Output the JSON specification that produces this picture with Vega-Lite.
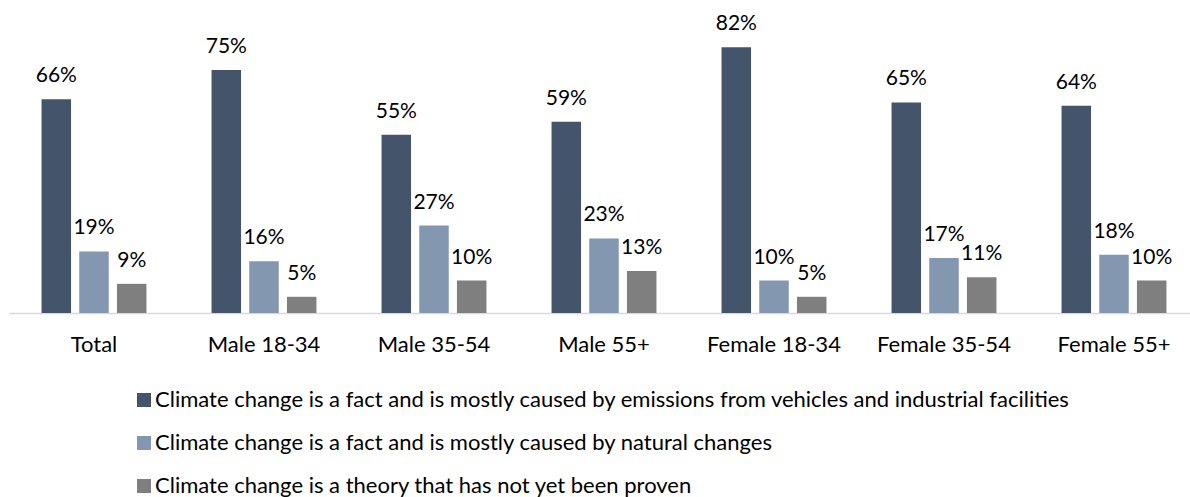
{
  "$schema": "https://vega.github.io/schema/vega-lite/v6.json",
  "width": 1181,
  "height": 313,
  "autosize": {"type": "none"},
  "padding": {"left": 9, "top": 0, "right": 0, "bottom": 184},
  "background": "white",
  "config": {"view": {"stroke": null}, "font": "Lato"},
  "data": {
    "values": [
      {"group": "Total", "series": "Climate change is a fact and is mostly caused by emissions from vehicles and industrial facilities", "value": 0.66},
      {"group": "Total", "series": "Climate change is a fact and is mostly caused by natural changes", "value": 0.19},
      {"group": "Total", "series": "Climate change is a theory that has not yet been proven", "value": 0.09},
      {"group": "Male 18-34", "series": "Climate change is a fact and is mostly caused by emissions from vehicles and industrial facilities", "value": 0.75},
      {"group": "Male 18-34", "series": "Climate change is a fact and is mostly caused by natural changes", "value": 0.16},
      {"group": "Male 18-34", "series": "Climate change is a theory that has not yet been proven", "value": 0.05},
      {"group": "Male 35-54", "series": "Climate change is a fact and is mostly caused by emissions from vehicles and industrial facilities", "value": 0.55},
      {"group": "Male 35-54", "series": "Climate change is a fact and is mostly caused by natural changes", "value": 0.27},
      {"group": "Male 35-54", "series": "Climate change is a theory that has not yet been proven", "value": 0.10},
      {"group": "Male 55+", "series": "Climate change is a fact and is mostly caused by emissions from vehicles and industrial facilities", "value": 0.59},
      {"group": "Male 55+", "series": "Climate change is a fact and is mostly caused by natural changes", "value": 0.23},
      {"group": "Male 55+", "series": "Climate change is a theory that has not yet been proven", "value": 0.13},
      {"group": "Female 18-34", "series": "Climate change is a fact and is mostly caused by emissions from vehicles and industrial facilities", "value": 0.82},
      {"group": "Female 18-34", "series": "Climate change is a fact and is mostly caused by natural changes", "value": 0.10},
      {"group": "Female 18-34", "series": "Climate change is a theory that has not yet been proven", "value": 0.05},
      {"group": "Female 35-54", "series": "Climate change is a fact and is mostly caused by emissions from vehicles and industrial facilities", "value": 0.65},
      {"group": "Female 35-54", "series": "Climate change is a fact and is mostly caused by natural changes", "value": 0.17},
      {"group": "Female 35-54", "series": "Climate change is a theory that has not yet been proven", "value": 0.11},
      {"group": "Female 55+", "series": "Climate change is a fact and is mostly caused by emissions from vehicles and industrial facilities", "value": 0.64},
      {"group": "Female 55+", "series": "Climate change is a fact and is mostly caused by natural changes", "value": 0.18},
      {"group": "Female 55+", "series": "Climate change is a theory that has not yet been proven", "value": 0.10}
    ]
  },
  "encoding": {
    "x": {
      "field": "group", "type": "nominal",
      "sort": ["Total", "Male 18-34", "Male 35-54", "Male 55+", "Female 18-34", "Female 35-54", "Female 55+"],
      "scale": {"range": [0, 1190], "paddingInner": 0, "paddingOuter": 0},
      "axis": {"title": null, "labelAngle": 0, "ticks": false, "domainColor": "#d9d9d9", "domainWidth": 1.5, "labelFontSize": 22, "labelFont": "Lato", "labelColor": "#000000", "labelPadding": 21, "labelLimit": 300}
    },
    "xOffset": {
      "field": "series", "type": "nominal",
      "sort": ["Climate change is a fact and is mostly caused by emissions from vehicles and industrial facilities", "Climate change is a fact and is mostly caused by natural changes", "Climate change is a theory that has not yet been proven"],
      "scale": {"paddingInner": 0.2175, "paddingOuter": 0.863}
    },
    "y": {"field": "value", "type": "quantitative", "scale": {"domain": [0, 0.966], "nice": false, "zero": true}, "axis": null}
  },
  "layer": [
    {
      "mark": {"type": "bar"},
      "encoding": {
        "color": {
          "field": "series", "type": "nominal",
          "scale": {
            "domain": ["Climate change is a fact and is mostly caused by emissions from vehicles and industrial facilities", "Climate change is a fact and is mostly caused by natural changes", "Climate change is a theory that has not yet been proven"],
            "range": ["#44546a", "#8497b0", "#7f7f7f"]
          },
          "legend": {"orient": "none", "legendX": 124, "legendY": 389, "direction": "vertical", "title": null, "symbolType": "square", "symbolSize": 196, "symbolStrokeWidth": 0, "symbolOpacity": 1, "labelFontSize": 22, "labelFont": "Lato", "labelColor": "#000000", "labelLimit": 1100, "rowPadding": 21, "labelOffset": 0}
        }
      }
    },
    {
      "mark": {"type": "text", "baseline": "alphabetic", "dy": -17, "fontSize": 21, "font": "Lato", "color": "#000000"},
      "encoding": {"text": {"field": "value", "type": "quantitative", "format": ".0%"}}
    }
  ]
}
